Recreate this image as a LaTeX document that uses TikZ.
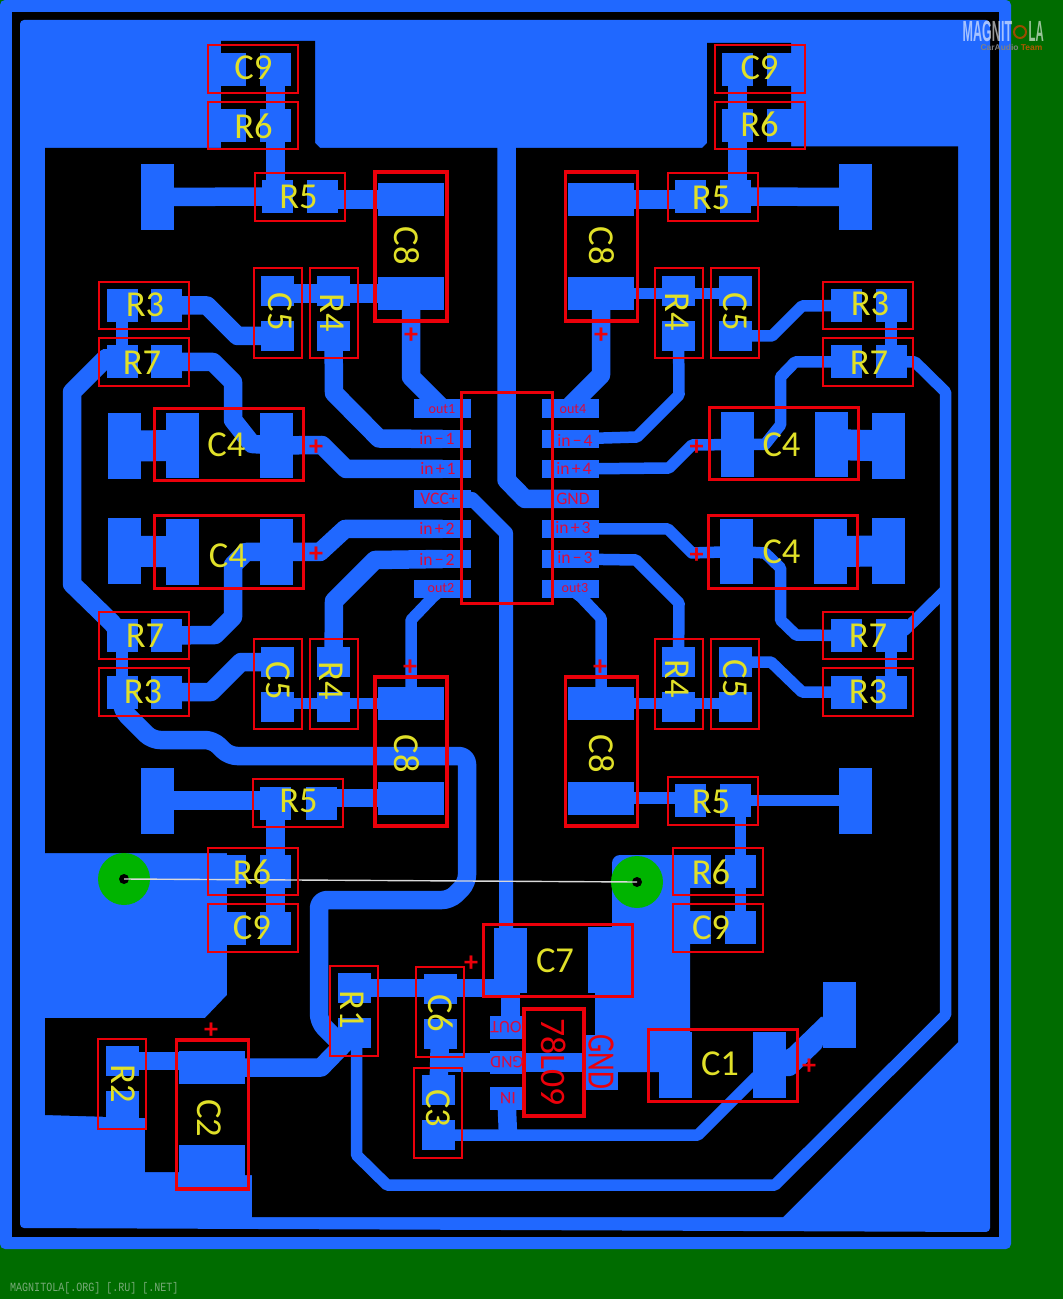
\documentclass[tikz,border=0pt]{standalone}
\usepackage{fontspec}
\setmainfont{Carlito}
\newfontfamily\monolabel{Liberation Mono}
\newfontfamily\logolabel{Liberation Sans}
\usepackage{xcolor}
\usepackage{tikz}
\definecolor{boardgreen}{RGB}{0,108,0}
\definecolor{copper}{RGB}{32,104,255}
\definecolor{viagreen}{RGB}{0,180,0}
\definecolor{silkred}{RGB}{235,0,10}
\definecolor{pinred}{RGB}{220,10,60}
\definecolor{silkyellow}{RGB}{224,224,40}
\definecolor{sitegreen}{RGB}{120,170,120}
\newcommand{\pinfont}{\fontsize{5}{6}\selectfont\setlength{\spaceskip}{.12em}}
\tikzset{
    pad/.style={rectangle, fill=copper, inner sep=0, outer sep=0},
    padR/.style={pad, minimum width=3.1mm, minimum height=3.3mm},
    padW/.style={pad, minimum width=3.8mm, minimum height=3.3mm},
    padV/.style={pad, minimum width=3.3mm, minimum height=3mm},
    padC/.style={pad, minimum width=3.3mm, minimum height=6.5mm},
    padL/.style={pad, minimum width=6.6mm, minimum height=3.3mm},
    padBig/.style={pad, minimum width=3.3mm, minimum height=6.6mm},
    padPin/.style={pad, minimum width=5.7mm, minimum height=1.85mm},
    padReg/.style={pad, minimum width=3.3mm, minimum height=2.3mm},
    trace/.style={draw=copper, line width=1.85mm, line join=round},
    traceM/.style={draw=copper, line width=1.4mm, line join=round},
    traceT/.style={draw=copper, line width=1.15mm, line join=round},
    traceW/.style={draw=copper, line width=3.1mm},
    outline/.style={rectangle, draw=silkred, inner sep=0, outer sep=0, line width=.2mm},
    boxH/.style={outline, minimum width=9mm, minimum height=4.75mm},
    boxV/.style={outline, minimum width=4.8mm, minimum height=9mm},
    boxC8/.style={outline, line width=.35mm, minimum width=7.2mm, minimum height=14.9mm},
    boxC4/.style={outline, line width=.3mm, minimum width=14.9mm, minimum height=7.2mm},
    silk/.style={text=silkyellow, inner sep=0, font=\fontsize{10.4}{12}\selectfont},
    silkR/.style={silk, rotate=-90},
    plus/.style={text=silkred, inner sep=0, yshift=-.25mm, font=\bfseries\fontsize{8}{9}\selectfont},
    pinlabel/.style={text=pinred, inner sep=0, font=\pinfont},
    pinlabelS/.style={text=pinred, inner sep=0, font=\fontsize{4}{5}\selectfont},
    via/.style={circle, fill=viagreen, minimum size=5.2mm, inner sep=0, outer sep=0},
    hole/.style={circle, fill=black, minimum size=1mm, inner sep=0, outer sep=0}
}
\begin{document}
\begin{tikzpicture}[x=0.1mm, y=-0.1mm]
\useasboundingbox (0,0) rectangle (1063,1299);
\fill[boardgreen] (0,0) rectangle (1063,1299);
\fill[copper, rounded corners=.5mm] (0,0) rectangle (1011,1249);
\fill[black] (12,12) rectangle (999,1237);
\fill[copper, rounded corners=.4mm] (20,20) -- (990,20) -- (990,1232) -- (20,1228) -- cycle;
\fill[black] (45,148) -- (221,148) -- (221,41) -- (315,41) -- (315,143) -- (320,148) -- (702,148) -- (707,143)
    -- (707,43) -- (791,43) -- (791,146.5) -- (958,146.5) -- (958,1042) -- (783,1217) -- (252,1217) -- (252,1175)
    -- (212,1175) -- (212,1172) -- (145,1172) -- (145,1118) -- (45,1115) -- (45,1018) -- (205,1018) -- (227,995)
    -- (227,853) -- (45,853) -- cycle;
\fill[copper, rounded corners=.8mm] (612,985) -- (612,855) -- (690,855) [sharp corners] -- (690,1072) -- (595,1072) -- (595,985) -- cycle;

\node[padR] (c9tla) at (230.5,69.5) {};
\node[padR] (c9tlb) at (275.5,69.5) {};
\node[padR] (r6tla) at (230.5,125.5) {};
\node[padR] (r6tlb) at (275.5,125.5) {};
\node[padR] (r5tla) at (277.5,196.5) {};
\node[padR] (r5tlb) at (322.5,196.5) {};
\node[padBig] (bigtl) at (157.5,197) {};
\node[padL] (c8tla) at (411,199.5) {};
\node[padL] (c8tlb) at (411,293.5) {};
\node[padV] (r4tla) at (333.5,291) {};
\node[padV] (r4tlb) at (333.5,336) {};
\node[padV] (c5tla) at (277.5,291) {};
\node[padV] (c5tlb) at (277.5,336) {};
\node[padR] (r3tla) at (122,305.5) {};
\node[padR] (r3tlb) at (166.5,305.5) {};
\node[padR] (r7tla) at (122,362) {};
\node[padR] (r7tlb) at (166.5,362) {};
\node[padBig] (c4tlo) at (124,446) {};
\node[padC] (c4tla) at (182.5,445.5) {};
\node[padC] (c4tlb) at (276.5,445.5) {};
\node[padBig] (c4llo) at (124,551) {};
\node[padC] (c4lla) at (182.5,552) {};
\node[padC] (c4llb) at (276.5,552) {};
\node[padR] (r7lla) at (122,635.5) {};
\node[padR] (r7llb) at (166.5,635.5) {};
\node[padR] (r3lla) at (122,692) {};
\node[padR] (r3llb) at (166.5,692) {};
\node[padV] (c5lla) at (277.5,662) {};
\node[padV] (c5llb) at (277.5,707) {};
\node[padV] (r4lla) at (333.5,662) {};
\node[padV] (r4llb) at (333.5,707) {};
\node[padL] (c8lla) at (411,703.5) {};
\node[padL] (c8llb) at (411,798) {};
\node[padBig] (bigll) at (157.5,800.5) {};
\node[padR] (r5lla) at (275.5,803) {};
\node[padR] (r5llb) at (321,803) {};
\node[padR] (r6lla) at (230.5,871.5) {};
\node[padR] (r6llb) at (275.5,871.5) {};
\node[padR] (c9lla) at (230.5,928) {};
\node[padR] (c9llb) at (275.5,928) {};

\node[padR] (c9tra) at (737.5,69.5) {};
\node[padW] (c9trb) at (785.5,69.5) {};
\node[padR] (r6tra) at (737.5,125.5) {};
\node[padW] (r6trb) at (785.5,125.5) {};
\node[padR] (r5tra) at (690.5,196.5) {};
\node[padR] (r5trb) at (735,196.5) {};
\node[padBig] (bigtr) at (855.5,197) {};
\node[padL] (c8tra) at (601,199.5) {};
\node[padL] (c8trb) at (601,293.5) {};
\node[padV] (r4tra) at (678.5,291) {};
\node[padV] (r4trb) at (678.5,336) {};
\node[padV] (c5tra) at (735.5,291) {};
\node[padV] (c5trb) at (735.5,336) {};
\node[padR] (r3tra) at (846,305.5) {};
\node[padR] (r3trb) at (891,305.5) {};
\node[padR] (r7tra) at (846,362) {};
\node[padR] (r7trb) at (891,362) {};
\node[padC] (c4ura) at (737,444.5) {};
\node[padC] (c4urb) at (831.5,444.5) {};
\node[padBig] (c4uro) at (888.5,446) {};
\node[padC] (c4lra) at (736.5,551.5) {};
\node[padC] (c4lrb) at (830.5,551.5) {};
\node[padBig] (c4lro) at (888.5,551) {};
\node[padR] (r7lra) at (846,635.5) {};
\node[padR] (r7lrb) at (891,635.5) {};
\node[padR] (r3lra) at (846,692) {};
\node[padR] (r3lrb) at (891,692) {};
\node[padV] (r4lra) at (678.5,662) {};
\node[padV] (r4lrb) at (678.5,707) {};
\node[padV] (c5lra) at (735.5,662) {};
\node[padV] (c5lrb) at (735.5,707) {};
\node[padL] (c8lra) at (601,703.5) {};
\node[padL] (c8lrb) at (601,798) {};
\node[padR] (r5lra) at (690.5,800.5) {};
\node[padR] (r5lrb) at (735,800.5) {};
\node[padBig] (biglr) at (855.5,800.5) {};
\node[padW] (r6lra) at (692,871.5) {};
\node[padR] (r6lrb) at (740.5,871.5) {};
\node[padW] (c9lra) at (692,927.5) {};
\node[padR] (c9lrb) at (740.5,927.5) {};

\node[padPin] (out1) at (442.5,408.5) {};
\node[padPin] (inm1) at (442.5,439) {};
\node[padPin] (inp1) at (442.5,469) {};
\node[padPin] (vcc) at (442.5,499) {};
\node[padPin] (inp2) at (442.5,529) {};
\node[padPin] (inm2) at (442.5,559) {};
\node[padPin] (out2) at (442.5,589) {};
\node[padPin] (out4) at (570.5,408.5) {};
\node[padPin] (inm4) at (570.5,439) {};
\node[padPin] (inp4) at (570.5,469) {};
\node[padPin] (gnd) at (570.5,499) {};
\node[padPin] (inp3) at (570.5,529) {};
\node[padPin] (inm3) at (570.5,559) {};
\node[padPin] (out3) at (570.5,589) {};

\node[padC] (c7a) at (510.5,960) {};
\node[pad, minimum width=4.4mm, minimum height=6.6mm] (c7b) at (610,960) {};
\node[padReg] (regout) at (506.5,1027.5) {};
\node[padReg] (reggnd) at (506.5,1062.5) {};
\node[padReg] (regin) at (506.5,1098.5) {};
\node[pad, minimum width=3.3mm, minimum height=5.5mm] (regtab) at (601.5,1062.5) {};
\node[padBig] (c1a) at (675.5,1065) {};
\node[padBig] (c1b) at (769.5,1065) {};
\node[padBig] (bigc1) at (839.5,1014.5) {};
\node[padV] (r1a) at (354.5,988) {};
\node[padV] (r1b) at (354.5,1033) {};
\node[padV] (c6a) at (440,988.5) {};
\node[padV] (c6b) at (440,1034) {};
\node[padV] (c3a) at (438.5,1090) {};
\node[padV] (c3b) at (438.5,1135) {};
\node[padV] (r2a) at (122,1061) {};
\node[padV] (r2b) at (122,1105.5) {};
\node[padL] (c2a) at (212,1067.5) {};
\node[pad, minimum width=6.6mm, minimum height=4.2mm] (c2b) at (212,1166) {};

\coordinate (gndtop) at (506.5,140);
\coordinate (railtap) at (945.5,590);
\draw[trace] (c9tlb.center) -- (c9tlb.center |- r5tla.center);
\draw[trace] (bigtl.center) -- (r5tla.center);
\draw[trace] (r5tlb.center |- c8tla.center) -- (c8tla.center);
\draw[trace] (c5tla.center |- c8tlb.center) -- (c8tlb.center);
\draw[trace] (c8tlb.center) -- (411,377) -- (441,407) -- (out1.center);
\draw[trace] (r4tlb.center) -- (334,393) -- (379,438.5) -- (inm1.center);
\draw[trace] (r3tlb.center) -- (207,305.5) -- (237.5,336) -- (c5tlb.center);
\draw[trace] (r7tlb.center) -- (213,362) -- (233,382) -- (233,420) -- (252,444) -- (c4tlb.center);
\draw[trace] (r7tla.center) -- (106,358) -- (72,392) -- (72,584) -- (112,623) -- (r7lla.center);
\draw[traceT] (r3tla.center) -- (r7tla.center);
\draw[traceW] (c4tlo.center) -- (c4tla.center);
\draw[traceW] (c4llo.center) -- (c4lla.center);
\draw[trace] (c4tlb.center) -- (322,445) -- (346,469) -- (inp1.center);
\draw[trace] (c4llb.center) -- (320,552) -- (345,529) -- (inp2.center);
\draw[trace] (c4llb.center) -- (246,552) -- (233,565) -- (233,617) -- (215,635) -- (r7llb.center);
\draw[trace] (r3llb.center) -- (211,692) -- (241,662) -- (c5lla.center);
\draw[trace] (inm2.center) -- (375,560) -- (334,601) -- (r4lla.center);
\draw[traceT] (c5llb.center |- c8lla.center) -- (c8lla.center);
\draw[traceT] (c8lla.center) -- (411,620) -- (433,597) -- (out2.center);
\draw[traceT] (r7lla.center) -- (r3lla.center);
\draw[trace, rounded corners=.8mm] (r3lla.center) -- (122,710) -- (152,740) -- (213,740) -- (229,756) -- (467,756) -- (467,883)
    -- (450,900) -- (319,900) -- (319,1022) -- (340,1043);
\draw[trace] (r5lla.center |- bigll.center) -- (bigll.center);
\draw[trace] (r5llb.center |- c8llb.center) -- (c8llb.center);
\draw[trace] (r5lla.center) -- (c9llb.center);
\draw[traceM] (vcc.center) -- (472,499) -- (506,533) -- (506,930);
\draw[trace] (gndtop) -- (506.5,480) -- (525,499) -- (gnd.center);

\draw[trace] (c9tra.center) -- (c9tra.center |- r5trb.center);
\draw[trace] (c8tra.center) -- (r5tra.center |- c8tra.center);
\draw[trace] (r5trb.center) -- (bigtr.center);
\draw[traceT] (c8trb.center) -- (c5tra.center |- c8trb.center);
\draw[trace] (c8trb.center) -- (601,375) -- (571,405) -- (out4.center);
\draw[traceT] (r4trb.center) -- (679,395) -- (637,437) -- (inm4.center);
\draw[traceT] (inp4.center) -- (669,468) -- (692,445) -- (c4ura.center);
\draw[traceW] (c4urb.center) -- (c4uro.center);
\draw[traceW] (c4lrb.center) -- (c4lro.center);
\draw[traceT] (r7tra.center) -- (795,362) -- (780.5,377) -- (780.5,425) -- (765,444.5) -- (c4ura.center);
\draw[traceT] (r3tra.center) -- (802,306) -- (772,336) -- (c5trb.center);
\draw[traceT] (r3trb.center) -- (r7trb.center);
\draw[traceT] (inp3.center) -- (668,529) -- (692,553) -- (c4lra.center);
\draw[traceT] (inm3.center) -- (636,560) -- (679,603) -- (r4lra.center);
\draw[traceT] (out3.center) -- (581,597) -- (601,618) -- (c8lra.center);
\draw[traceT] (c4lra.center) -- (765,553) -- (780.5,568) -- (780.5,620) -- (796,635) -- (r7lra.center);
\draw[traceT] (r3lra.center) -- (802,692) -- (771,662) -- (c5lra.center);
\draw[traceT] (r7lrb.center) -- (r3lrb.center);
\draw[traceT] (c8lra.center) -- (c5lrb.center |- c8lra.center);
\draw[traceT] (c8lrb.center) -- (r5lra.center |- c8lrb.center);
\draw[traceT] (r5lrb.center) -- (biglr.center);
\draw[traceT] (c9lrb.center) -- (c9lrb.center |- r5lrb.center);

\draw[trace] (r1a.center) -- (c7a.center |- r1a.center);
\draw[trace] (c7a.center) -- (c7a.center |- regout.center);
\draw[trace] (c6b.center) -- (c3a.center);
\draw[trace] (c6b.center |- reggnd.center) -- (reggnd.center) -- (regtab.center);
\draw[trace] (regin.center) -- (508,1135);
\draw[traceT] (c3b.center) -- (698,1135) -- (755,1078) -- (c1b.center);
\draw[traceT] (r1b.center) -- (356.5,1048) -- (356.5,1155) -- (387,1185) -- (775,1185) -- (945.5,1015) -- (945.5,392)
    -- (915,362) -- (r7trb.center);
\draw[traceT] (railtap) -- (905,630) -- (r7lrb.center);
\draw[trace] (c2a.center) -- (321,1067.5) -- (r1b.center);
\draw[trace] (r2a.center) -- (r2a.center -| c2a.center);
\fill[copper, rounded corners=.3mm] (780,1050) -- (787,1050) -- (823,1015) -- (823,1047) -- (793,1076) -- (780,1076) -- cycle;

\node[via] (via1) at (124,879) {};
\node[via] (via2) at (637,882) {};
\node[hole] (hole1) at (124,879) {};
\node[hole] (hole2) at (637,882) {};
\draw[white!85!black, line width=.14mm] (hole1.center) -- (hole2.center);

\node[boxH] (bc9tl) at (252.5,69) {};
\node[boxH] (br6tl) at (252.5,125.5) {};
\node[boxH] (br5tl) at (300,197) {};
\node[boxC8] (bc8tl) at (411,246.5) {};
\node[boxH] (br3tl) at (144,305.5) {};
\node[boxH] (br7tl) at (144,362) {};
\node[boxV] (bc5tl) at (277.5,313) {};
\node[boxV] (br4tl) at (333.5,313) {};
\node[boxC4] (bc4tl) at (229,445) {};
\node[boxC4] (bc4ll) at (229,552) {};
\node[boxH] (br7ll) at (144,635.5) {};
\node[boxH] (br3ll) at (144,692) {};
\node[boxV] (bc5ll) at (277.5,684) {};
\node[boxV] (br4ll) at (333.5,684) {};
\node[boxC8] (bc8ll) at (411,751.5) {};
\node[boxH] (br5ll) at (298,803) {};
\node[boxH] (br6ll) at (252.5,871.5) {};
\node[boxH] (bc9ll) at (252.5,928) {};
\node[boxH] (bc9tr) at (759.5,69) {};
\node[boxH] (br6tr) at (759.5,125.5) {};
\node[boxH] (br5tr) at (712.5,197) {};
\node[boxC8] (bc8tr) at (601.5,246.5) {};
\node[boxV] (br4tr) at (679,313) {};
\node[boxV] (bc5tr) at (735,313) {};
\node[boxH] (br3tr) at (868,305.5) {};
\node[boxH] (br7tr) at (868,362) {};
\node[boxC4] (bc4ur) at (784,444) {};
\node[boxC4] (bc4lr) at (783,552) {};
\node[boxH] (br7lr) at (868,635.5) {};
\node[boxH] (br3lr) at (868,692) {};
\node[boxV] (br4lr) at (679,684) {};
\node[boxV] (bc5lr) at (735,684) {};
\node[boxC8] (bc8lr) at (601.5,751.5) {};
\node[boxH] (br5lr) at (712.5,801) {};
\node[boxH] (br6lr) at (718,871.5) {};
\node[boxH] (bc9lr) at (718,928) {};
\node[boxC4, minimum height=7.2mm] (bc7) at (557.5,960) {};
\node[outline, line width=.4mm, minimum width=6mm, minimum height=10.7mm] (breg) at (554,1062.5) {};
\node[boxC4] (bc1) at (722.5,1065) {};
\node[boxC8] (bc2) at (212.5,1114.5) {};
\node[boxV] (br2) at (122,1084) {};
\node[boxV] (br1) at (354,1011) {};
\node[boxV] (bc6) at (440,1012) {};
\node[boxV] (bc3) at (438,1112.5) {};
\node[outline, line width=.3mm, minimum width=9.1mm, minimum height=21.1mm] (bic) at (506.5,498.5) {};

\node[silk] (lc9tl) at (253.5,68) {C9};
\node[silk] (lr6tl) at (253.5,126) {R6};
\node[silk] (lr5tl) at (298.5,197) {R5};
\node[silkR] (lc8tl) at (407,246) {C8};
\node[silk] (lr3tl) at (145,305) {R3};
\node[silk] (lr7tl) at (142,363) {R7};
\node[silkR] (lc5tl) at (280,312) {C5};
\node[silkR] (lr4tl) at (332,313) {R4};
\node[silk] (lc4tl) at (226.5,445) {C4};
\node[silk] (lc4ll) at (228,556) {C4};
\node[silk] (lr7ll) at (145,636) {R7};
\node[silk] (lr3ll) at (143,692) {R3};
\node[silkR] (lc5ll) at (278,681) {C5};
\node[silkR] (lr4ll) at (331,681) {R4};
\node[silkR] (lc8ll) at (407,754) {C8};
\node[silk] (lr5ll) at (298.5,801) {R5};
\node[silk] (lr6ll) at (252,872) {R6};
\node[silk] (lc9ll) at (252,928) {C9};
\node[silk] (lc9tr) at (759.5,68) {C9};
\node[silk] (lr6tr) at (759.5,124) {R6};
\node[silk] (lr5tr) at (711,198) {R5};
\node[silkR] (lc8tr) at (602,246) {C8};
\node[silkR] (lr4tr) at (677,312) {R4};
\node[silkR] (lc5tr) at (735,312) {C5};
\node[silk] (lr3tr) at (870,304) {R3};
\node[silk] (lr7tr) at (869,363) {R7};
\node[silk] (lc4ur) at (781.5,445) {C4};
\node[silk] (lc4lr) at (781.5,552) {C4};
\node[silk] (lr7lr) at (868,636) {R7};
\node[silk] (lr3lr) at (868,692) {R3};
\node[silkR] (lr4lr) at (677,679) {R4};
\node[silkR] (lc5lr) at (735,679) {C5};
\node[silkR] (lc8lr) at (602,754) {C8};
\node[silk] (lr5lr) at (711,802) {R5};
\node[silk] (lr6lr) at (711,872) {R6};
\node[silk] (lc9lr) at (711,928) {C9};
\node[silk] (lc7) at (555,961) {C7};
\node[silk] (lc1) at (720,1064) {C1};
\node[silkR] (lc2) at (209,1118) {C2};
\node[silkR] (lr2) at (123,1084) {R2};
\node[silkR] (lr1) at (352,1010) {R1};
\node[silkR] (lc6) at (441,1013) {C6};
\node[silkR] (lc3) at (438,1108) {C3};

\node[plus] (ptl) at (411,333) {+};
\node[plus] (ptr) at (601,333) {+};
\node[plus] (pll) at (410,665) {+};
\node[plus] (plr) at (600,665) {+};
\node[plus] (pc4a) at (316,445) {+};
\node[plus] (pc4b) at (316,552) {+};
\node[plus] (pc4c) at (696.5,445) {+};
\node[plus] (pc4d) at (696.5,553) {+};
\node[plus] (pc7) at (471,961) {+};
\node[plus] (pc2) at (211,1028) {+};
\node[plus] (pc1) at (809,1064) {+};

\node[pinlabelS] (tout1) at (442,409) {out1};
\node[pinlabel] (tinm1) at (437,438) {in − 1};
\node[pinlabel] (tinp1) at (438,468) {in + 1};
\node[pinlabel] (tvcc) at (439,499) {VCC+};
\node[pinlabel] (tinp2) at (437,528) {in + 2};
\node[pinlabel] (tinm2) at (437,559) {in − 2};
\node[pinlabelS] (tout2) at (441,588) {out2};
\node[pinlabelS] (tout4) at (573,409) {out4};
\node[pinlabel] (tinm4) at (575,440) {in − 4};
\node[pinlabel] (tinp4) at (574,468) {in + 4};
\node[pinlabel] (tgnd) at (573,499) {GND};
\node[pinlabel] (tinp3) at (573,528) {in + 3};
\node[pinlabel] (tinm3) at (575,558) {in − 3};
\node[pinlabelS] (tout3) at (575,588) {out3};
\node[pinlabel, rotate=180] (treg1) at (506,1027) {OUT};
\node[pinlabel, rotate=180] (treg2) at (507,1062) {GND};
\node[pinlabel, rotate=180] (treg3) at (508,1098) {IN};
\node[text=silkred, inner sep=0, rotate=-90, font=\fontsize{10.2}{12}\selectfont] (treg) at (554,1062) {78L09};
\node[text=silkred, inner sep=0, rotate=-90, font=\fontsize{11}{12}\selectfont] (tregb) at (601,1062) {\scalebox{.75}[1]{GND}};

\node[text=white, opacity=.6, anchor=west, inner sep=0, font=\logolabel\bfseries\fontsize{8.3}{9}\selectfont] (logoa) at (962,31) {\scalebox{.43}[1]{MAGNIT}};
\node[draw=orange!60!black, line width=.2mm, circle, minimum size=1.2mm, inner sep=0] (logoo) at (1020,32) {};
\node[text=white, opacity=.6, anchor=west, inner sep=0, font=\logolabel\bfseries\fontsize{8.3}{9}\selectfont] (logob) at (1028,31) {\scalebox{.39}[1]{LA}};
\node[text=gray, anchor=east, inner sep=0, font=\logolabel\bfseries\fontsize{2.4}{3}\selectfont] (logoc) at (1043,47) {CarAudio \textcolor{orange!70!black}{Team}};
\node[text=sitegreen, anchor=west, inner sep=0, font=\monolabel\fontsize{2.85}{3}\selectfont] (sitetext) at (9.5,1288) {\scalebox{1}[1.25]{MAGNITOLA[.ORG] [.RU] [.NET]}};
\end{tikzpicture}
\end{document}
